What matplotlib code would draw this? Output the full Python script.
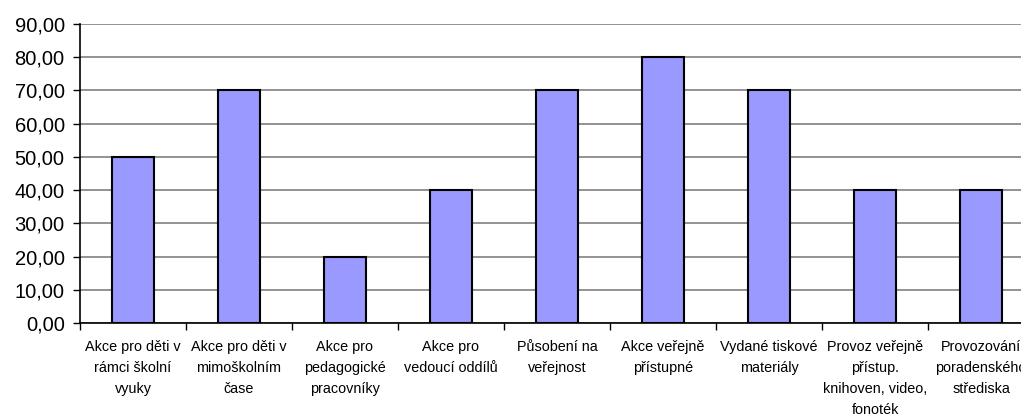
import numpy as np
import matplotlib.pyplot as plt
from matplotlib.ticker import FixedLocator, FuncFormatter

plt.rcParams['font.family'] = ['Liberation Sans', 'DejaVu Sans']

categories = [
    "Akce pro děti v\nrámci školní\nvyuky",
    "Akce pro děti v\nmimoškolním\nčase",
    "Akce pro\npedagogické\npracovníky",
    "Akce pro\nvedoucí oddílů",
    "Působení na\nveřejnost",
    "Akce veřejně\npřístupné",
    "Vydané tiskové\nmateriály",
    "Provoz veřejně\npřístup.\nknihoven, video,\nfonoték",
    "Provozování\nporadenského\nstřediska",
]
values = [50, 70, 20, 40, 70, 80, 70, 40, 40]
yticks = [0, 10, 20, 30, 40, 50, 60, 70, 80, 90]

W, H = 1021, 416
fig = plt.figure(figsize=(W / 100, H / 100), dpi=100)
ax = fig.add_axes([80 / W, (H - 323) / H, 954 / W, 299 / H])

x = np.arange(len(values))
ax.bar(x, values, width=0.4, color='#9999FF', edgecolor='black', linewidth=1.5, zorder=3)

ax.set_xlim(-0.5, len(values) - 0.5)
ax.set_ylim(0, 90)
ax.set_yticks(yticks)
ax.yaxis.set_major_formatter(FuncFormatter(lambda v, p: f"{v:.2f}".replace('.', ',')))
ax.grid(axis='y', color='#808080', linewidth=1.2, zorder=0)

# category boundaries as tick marks, labels centred between them
ax.xaxis.set_major_locator(FixedLocator(np.arange(-0.5, len(values), 1.0)))
ax.xaxis.set_major_formatter(FuncFormatter(lambda v, p: ''))
ax.xaxis.set_minor_locator(FixedLocator(x))
ax.set_xticklabels(categories, minor=True, fontsize=10.4, linespacing=1.66)
ax.tick_params(axis='x', which='major', direction='out', length=5, width=1, color='black')
ax.tick_params(axis='x', which='minor', length=0, pad=12)
ax.tick_params(axis='y', direction='out', length=5, width=1, labelsize=14.5, pad=6)

for s in ['top', 'right']:
    ax.spines[s].set_visible(False)
ax.spines['left'].set_linewidth(1.2)
ax.spines['bottom'].set_linewidth(1.2)

fig.savefig('out.png', dpi=100)
